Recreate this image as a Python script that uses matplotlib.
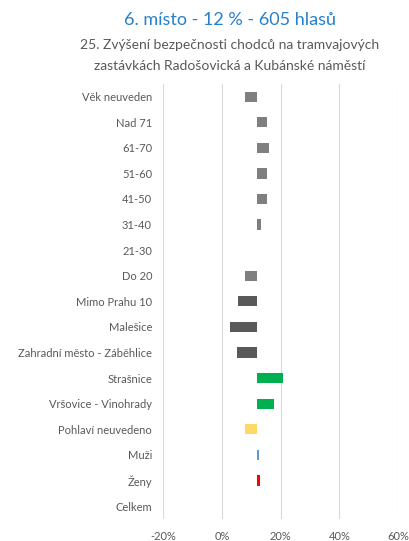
import matplotlib
matplotlib.use("Agg")
import matplotlib.pyplot as plt

plt.rcParams['font.family'] = ['Lato', 'DejaVu Sans']

categories = ['Věk neuveden', 'Nad 71', '61-70', '51-60', '41-50', '31-40', '21-30',
              'Do 20', 'Mimo Prahu 10', 'Malešice', 'Zahradní město - Záběhlice',
              'Strašnice', 'Vršovice - Vinohrady', 'Pohlaví neuvedeno', 'Muži', 'Ženy',
              'Celkem']
values = [8.0, 15.5, 16.0, 15.3, 15.3, 13.4, 12.0,
          7.8, 5.5, 2.8, 5.0,
          20.9, 17.8, 7.8, 12.6, 13.1,
          12.0]
colors = ['#7f7f7f'] * 8 + ['#595959'] * 3 + ['#00b050'] * 2 + ['#ffd966', '#5b9bd5', '#ff0000', '#7f7f7f']
base = 12.0  # celkem

fig = plt.figure(figsize=(4.10, 5.41), dpi=100)
ax = fig.add_axes([0.398, 0.041, 0.573, 0.804])

y = list(range(len(categories)))
widths = [v - base for v in values]
ax.barh(y, widths, left=base, height=0.4, color=colors, zorder=3)

ax.set_xlim(-20, 60)
ax.set_ylim(len(categories) - 0.5, -0.5)
ax.set_xticks([-20, 0, 20, 40, 60])
ax.set_xticklabels(['-20%', '0%', '20%', '40%', '60%'])
ax.set_yticks(y)
ax.set_yticklabels(categories)
ax.tick_params(axis='both', length=0, labelsize=8, colors='#595959')
ax.tick_params(axis='y', pad=8)
ax.tick_params(axis='x', pad=9)
ax.grid(axis='x', color='#d9d9d9', linewidth=0.8, zorder=0)
for s in ax.spines.values():
    s.set_visible(False)

fig.text(0.56, 0.963, '6. místo - 12 % - 605 hlasů', ha='center', va='center',
         fontsize=13, color='#2580d0')
fig.text(0.56, 0.917, '25. Zvýšení bezpečnosti chodců na tramvajových', ha='center', va='center',
         fontsize=10, color='#595959')
fig.text(0.56, 0.878, 'zastávkách Radošovická a Kubánské náměstí', ha='center', va='center',
         fontsize=10, color='#595959')

fig.savefig('out.png', dpi=100)
